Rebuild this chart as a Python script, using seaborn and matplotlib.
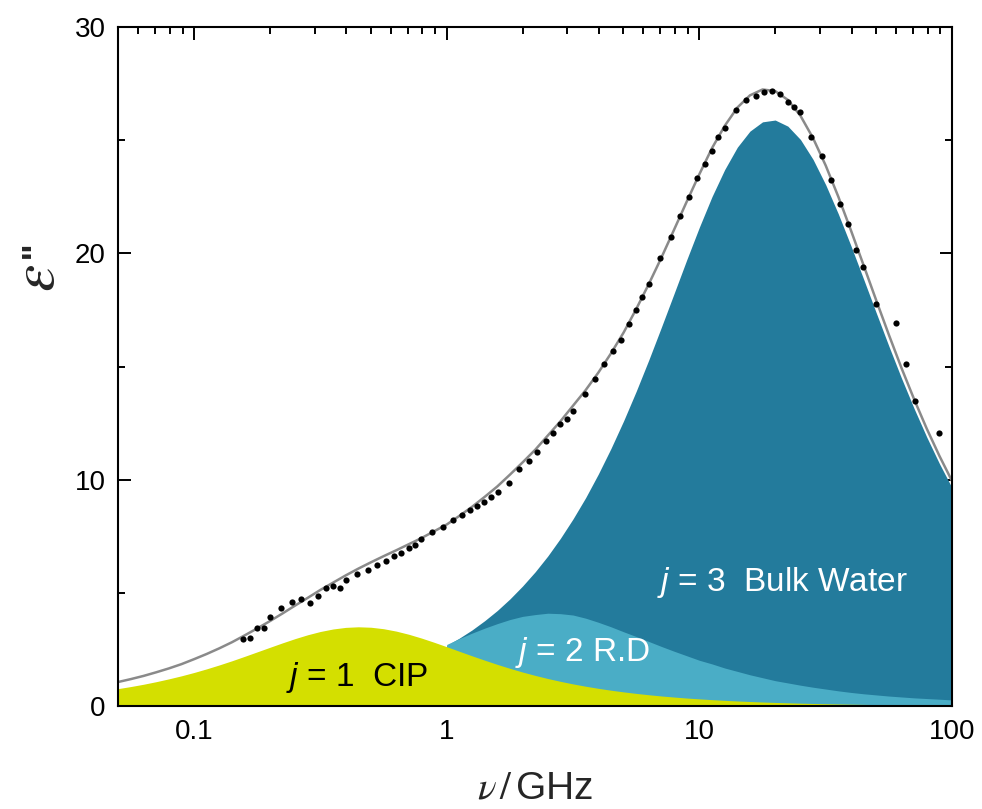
import matplotlib
matplotlib.use("Agg")
import matplotlib.pyplot as plt
import matplotlib.ticker as mticker
import numpy as np
import seaborn as sns

# model curves, frequency in GHz
freq = [0.05, 0.05623, 0.0631, 0.07079, 0.0794, 0.08913, 0.1, 0.1122, 0.1259, 0.1413,
        0.1585, 0.1778, 0.1995, 0.2239, 0.2512, 0.2818, 0.3162, 0.3548, 0.3981, 0.4467,
        0.5012, 0.5623, 0.631, 0.7079, 0.7943, 0.8913,
        1.0, 1.122, 1.259, 1.413, 1.585, 1.778, 1.995, 2.239, 2.512, 2.818,
        3.162, 3.548, 3.981, 4.467, 5.012, 5.623, 6.31, 7.079, 7.943, 8.913,
        10.0, 11.22, 12.59, 14.13, 15.85, 17.78, 19.95, 22.39, 25.12, 28.18,
        31.62, 35.48, 39.81, 44.67, 50.12, 56.23, 63.1, 70.79, 79.43, 89.13, 100.0]
cip = [0.768, 0.861, 0.962, 1.075, 1.199, 1.334, 1.482, 1.643, 1.816, 2.000,
       2.194, 2.393, 2.593, 2.791, 2.979, 3.149, 3.293, 3.403, 3.474, 3.500,
       3.480, 3.415, 3.309, 3.169, 3.002, 2.816,
       2.620, 2.418, 2.218, 2.025, 1.839, 1.665, 1.502, 1.352, 1.215, 1.090,
       0.976, 0.874, 0.781, 0.698, 0.624, 0.557, 0.497, 0.443, 0.396, 0.352,
       0.315, 0.281, 0.250, 0.223, 0.199, 0.177, 0.158, 0.141, 0.125, 0.112,
       0.100, 0.089, 0.079, 0.071, 0.063, 0.056, 0.050, 0.045, 0.040, 0.035, 0.031]
fit = [1.06, 1.19, 1.33, 1.49, 1.66, 1.85, 2.07, 2.30, 2.55, 2.82,
       3.12, 3.43, 3.75, 4.09, 4.44, 4.78, 5.13, 5.45, 5.77, 6.07,
       6.35, 6.62, 6.88, 7.15, 7.42, 7.72,
       8.02, 8.40, 8.80, 9.24, 9.70, 10.22, 10.76, 11.32, 11.95, 12.58,
       13.27, 13.96, 14.73, 15.58, 16.50, 17.54, 18.65, 19.82, 21.05, 22.29,
       23.50, 24.65, 25.63, 26.44, 26.98, 27.24, 27.17, 26.78, 26.08, 25.09,
       23.88, 22.50, 21.01, 19.47, 17.92, 16.40, 14.93, 13.55, 12.25, 11.05, 9.94]

# the two faster modes are only drawn from 1 GHz on
freq_hi = freq[26:]
rd = [2.72, 2.98, 3.22, 3.44, 3.64, 3.82, 3.96, 4.04, 4.10, 4.08,
      4.02, 3.88, 3.70, 3.50, 3.28, 3.07, 2.85, 2.63, 2.42, 2.22,
      2.02, 1.86, 1.68, 1.53, 1.38, 1.25, 1.12, 1.02, 0.92, 0.83,
      0.75, 0.67, 0.60, 0.54, 0.49, 0.44, 0.40, 0.36, 0.33, 0.30, 0.27]
bulk = [2.68, 3.00, 3.36, 3.77, 4.22, 4.73, 5.30, 5.93, 6.63, 7.41,
        8.27, 9.21, 10.25, 11.38, 12.60, 13.91, 15.30, 16.75, 18.23, 19.72,
        21.16, 22.51, 23.70, 24.69, 25.40, 25.81, 25.89, 25.62, 25.03, 24.15,
        23.03, 21.74, 20.33, 18.86, 17.37, 15.90, 14.48, 13.14, 11.88, 10.71, 9.64]

# measured points
dot_freq = [0.1558, 0.166, 0.1776, 0.1885, 0.1998, 0.2215, 0.2440, 0.2655, 0.2873, 0.3098,
            0.3332, 0.3551, 0.3773, 0.3985, 0.4416, 0.4865, 0.5295, 0.5745, 0.6178, 0.6603,
            0.7063, 0.7499, 0.7917, 0.8781, 0.9670, 1.059, 1.146, 1.232, 1.317, 1.403,
            1.495, 1.589, 1.761, 1.936, 2.112, 2.286, 2.465, 2.636, 2.818, 2.983,
            3.161, 3.513, 3.860, 4.202, 4.558, 4.901, 5.258, 5.602, 5.950, 6.304,
            6.985, 7.699, 8.401, 9.091, 9.775, 10.48, 11.17, 11.87, 12.61, 13.93,
            15.30, 16.74, 18.10, 19.45, 20.84, 22.34, 23.64, 25.02, 27.71, 30.51,
            33.23, 36.15, 38.89, 41.70, 44.44, 50.14, 59.85, 65.85, 71.65, 88.87]
dot_eps = [2.96, 3.00, 3.46, 3.46, 3.95, 4.33, 4.61, 4.74, 4.54, 4.87,
           5.20, 5.30, 5.23, 5.58, 5.82, 6.00, 6.24, 6.41, 6.64, 6.77,
           6.99, 7.11, 7.37, 7.70, 7.90, 8.20, 8.45, 8.66, 8.85, 9.03,
           9.22, 9.44, 9.87, 10.46, 10.84, 11.24, 11.69, 12.06, 12.45, 12.69,
           13.05, 13.80, 14.45, 15.10, 15.69, 16.17, 16.86, 17.51, 18.08, 18.63,
           19.81, 20.72, 21.65, 22.48, 23.32, 23.93, 24.51, 25.13, 25.52, 26.33,
           26.77, 26.97, 27.14, 27.18, 27.02, 26.70, 26.47, 26.24, 25.13, 24.31,
           23.23, 22.17, 21.28, 20.15, 19.41, 17.75, 16.94, 15.11, 13.48, 12.06]

sns.set_theme(style="ticks")
plt.rcParams["font.family"] = ["Liberation Sans", "DejaVu Sans"]
plt.rcParams["mathtext.fontset"] = "custom"
plt.rcParams["mathtext.it"] = "Liberation Sans:italic"
plt.rcParams["mathtext.rm"] = "Liberation Sans"

fig, ax = plt.subplots(figsize=(9.82, 8.09), dpi=100)
fig.subplots_adjust(left=0.1202, right=0.9695, bottom=0.1273, top=0.9666)

ax.fill_between(freq_hi, bulk, color="#237b9c", linewidth=0)
ax.fill_between(freq_hi, rd, color="#4aadc6", linewidth=0)
ax.fill_between(freq, cip, color="#d4df00", linewidth=0)
sns.lineplot(x=freq, y=fit, color="#8a8a8a", linewidth=1.8, ax=ax)
sns.scatterplot(x=dot_freq, y=dot_eps, color="black", s=20, linewidth=0, ax=ax, zorder=3)

ax.set_xscale("log")
ax.set_xlim(0.05, 100)
ax.set_ylim(0, 30)
ax.xaxis.set_major_locator(mticker.FixedLocator([0.1, 1, 10, 100]))
ax.xaxis.set_major_formatter(mticker.FixedFormatter(["0.1", "1", "10", "100"]))
ax.xaxis.set_minor_locator(mticker.LogLocator(base=10, subs=np.arange(2, 10), numticks=20))
ax.xaxis.set_minor_formatter(mticker.NullFormatter())
ax.yaxis.set_major_locator(mticker.MultipleLocator(10))
ax.yaxis.set_minor_locator(mticker.MultipleLocator(5))
ax.tick_params(which="both", direction="in", top=True, right=True, width=1.4,
               colors="black", labelsize=20, pad=9)
ax.tick_params(which="major", length=9)
ax.tick_params(which="minor", length=5)
for sp in ax.spines.values():
    sp.set_linewidth(1.5)
    sp.set_color("black")

ax.text(0.232, 0.88, r"$j$ = 1  CIP", fontsize=24, color="black", ha="left", va="baseline")
ax.text(1.855, 1.99, r"$j$ = 2 R.D", fontsize=24, color="white", ha="left", va="baseline")
ax.text(6.82, 5.09, r"$j$ = 3  Bulk Water", fontsize=24, color="white", ha="left", va="baseline")

ax.set_xlabel(r"$\nu\,/\,$GHz", fontsize=28, labelpad=19, math_fontfamily="stix")
ax.set_ylabel("")
ax.text(-0.095, 0.63, r"$\varepsilon$", transform=ax.transAxes, rotation=90,
        ha="center", va="center", fontsize=44, math_fontfamily="stix")
ax.text(-0.097, 0.672, "''", transform=ax.transAxes, rotation=90,
        ha="center", va="center", fontsize=26, fontweight="bold")

fig.savefig("out.png", dpi=100)
plt.close()
